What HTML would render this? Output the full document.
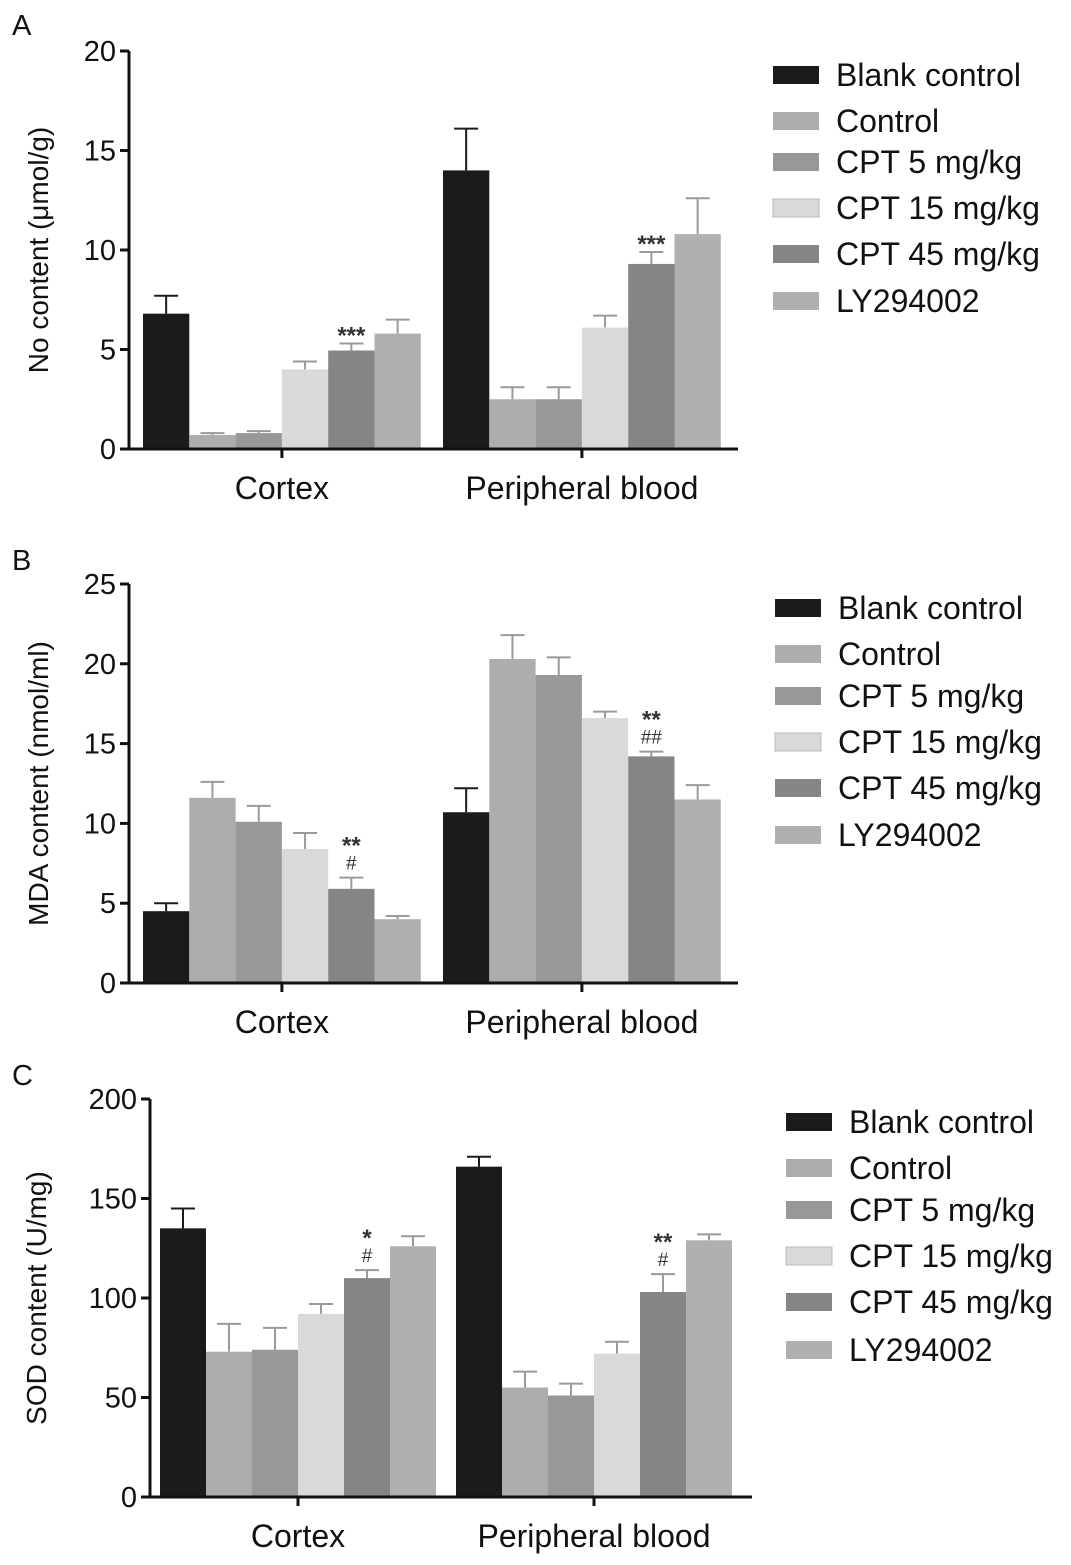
<!DOCTYPE html>
<html><head><meta charset="utf-8"><style>
html,body{margin:0;padding:0;background:#fff}
svg{display:block;font-family:"Liberation Sans",Arial,sans-serif}
</style></head><body>
<svg id="chart" width="1071" height="1565" viewBox="0 0 1071 1565" xmlns="http://www.w3.org/2000/svg"></svg>
<script>
const groups = ["Cortex", "Peripheral blood"];
const seriesNames = ["Blank control", "Control", "CPT 5 mg/kg", "CPT 15 mg/kg", "CPT 45 mg/kg", "LY294002"];
const seriesColors = ["#1b1b1b", "#adadad", "#989898", "#d9d9d9", "#858585", "#b0b0b0"];

const aMeans = [[6.8, 0.7, 0.8, 4.0, 4.95, 5.8], [14.0, 2.5, 2.5, 6.1, 9.3, 10.8]];
const aErr = [[0.9, 0.1, 0.1, 0.4, 0.35, 0.7], [2.1, 0.6, 0.6, 0.6, 0.6, 1.8]];
const aTicks = [0, 5, 10, 15, 20];
const aAnnot = [[null, null, null, null, ["***"], null], [null, null, null, null, ["***"], null]];

const bMeans = [[4.5, 11.6, 10.1, 8.4, 5.9, 4.0], [10.7, 20.3, 19.3, 16.6, 14.2, 11.5]];
const bErr = [[0.5, 1.0, 1.0, 1.0, 0.7, 0.2], [1.5, 1.5, 1.1, 0.4, 0.3, 0.9]];
const bTicks = [0, 5, 10, 15, 20, 25];
const bAnnot = [[null, null, null, null, ["**", "#"], null], [null, null, null, null, ["**", "##"], null]];

const cMeans = [[135, 73, 74, 92, 110, 126], [166, 55, 51, 72, 103, 129]];
const cErr = [[10, 14, 11, 5, 4, 5], [5, 8, 6, 6, 9, 3]];
const cTicks = [0, 50, 100, 150, 200];
const cAnnot = [[null, null, null, null, ["*", "#"], null], [null, null, null, null, ["**", "#"], null]];

const svg = document.getElementById('chart');
const NS = 'http://www.w3.org/2000/svg';
function mk(tag, attrs, text) {
  const e = document.createElementNS(NS, tag);
  for (const k in attrs) e.setAttribute(k, attrs[k]);
  if (text !== undefined) e.textContent = text;
  svg.appendChild(e);
  return e;
}

function panel(cfg) {
  const yMax = cfg.ticks[cfg.ticks.length - 1];
  const yScale = v => cfg.y0 - (v / yMax) * (cfg.y0 - cfg.yTop);
  const bw = cfg.bw;
  const xBar = (g, s) => cfg.gx[g] + s * bw;
  let t;
  t = mk('text', {x: cfg.letterX, y: cfg.letterY, 'font-size': 29, fill: '#111'}, cfg.letter);
  
  
  cfg.means.forEach((row, g) => {
    row.forEach((v, s) => {
      const x = xBar(g, s);
      const top = yScale(v + cfg.err[g][s]);
      const ec = s === 0 ? '#1b1b1b' : '#9a9a9a';
      let l = mk('line', {x1: x + bw / 2, x2: x + bw / 2, y1: yScale(v), y2: top, stroke: ec, 'stroke-width': 2});
      
      
      let c = mk('line', {x1: x + bw / 2 - 12, x2: x + bw / 2 + 12, y1: top, y2: top, stroke: ec, 'stroke-width': 2});
      
      
      let r = mk('rect', {x: x, y: yScale(v), width: bw, height: cfg.y0 - yScale(v), fill: seriesColors[s]});
      
      
      const an = cfg.annot[g][s];
      if (an) {
        an.forEach((txt, i) => {
          const isStar = txt.indexOf('*') >= 0;
          const ay = top - 8 - (an.length - 1 - i) * 24 + (isStar ? 8 : 0);
          let a = mk('text', {x: x + bw / 2, y: ay, 'font-size': isStar ? 24 : 19, 'font-weight': isStar ? 'bold' : 'normal', 'text-anchor': 'middle', fill: '#333'}, txt);
          
          
        });
      }
    });
  });
  let ya = mk('line', {x1: cfg.ax, x2: cfg.ax, y1: cfg.yTop, y2: cfg.y0 + 1, stroke: '#111', 'stroke-width': 3});
  
  
  let xa = mk('line', {x1: cfg.ax - 1, x2: cfg.axEnd, y1: cfg.y0, y2: cfg.y0, stroke: '#111', 'stroke-width': 3});
  
  
  cfg.ticks.forEach(tv => {
    const y = yScale(tv);
    let tk = mk('line', {x1: cfg.ax - 9, x2: cfg.ax, y1: y, y2: y, stroke: '#111', 'stroke-width': 3});
    
    
    let tl = mk('text', {x: cfg.ax - 13, y: y + 10, 'font-size': 29, 'text-anchor': 'end', fill: '#111'}, String(tv));
    
    
  });
  groups.forEach((gname, g) => {
    const cx = cfg.gx[g] + 3 * bw;
    let tk = mk('line', {x1: cx, x2: cx, y1: cfg.y0, y2: cfg.y0 + 9, stroke: '#111', 'stroke-width': 3});
    
    
    let tl = mk('text', {x: cx, y: cfg.y0 + 50, 'font-size': 32, 'text-anchor': 'middle', fill: '#111'}, gname);
    
    
  });
  const midY = (cfg.y0 + cfg.yTop) / 2;
  let yt = mk('text', {x: cfg.ytX, y: midY, 'font-size': 28, 'text-anchor': 'middle', fill: '#111', transform: `rotate(-90 ${cfg.ytX} ${midY})`}, cfg.ytitle);
  
  
  seriesNames.forEach((n, s) => {
    const ly = cfg.legY[s];
    let sw = mk('rect', {x: cfg.legX, y: ly - 9, width: 46, height: 18, fill: seriesColors[s], stroke: s === 3 ? '#bbb' : 'none'});
    
    
    let lt = mk('text', {x: cfg.legX + 63, y: ly + 11, 'font-size': 32, fill: '#111'}, n);
    
    
  });
}

panel({id: 'a', letter: 'A', letterX: 12, letterY: 35, ax: 129, axEnd: 738, y0: 449, yTop: 51, ticks: aTicks,
  means: aMeans, err: aErr, annot: aAnnot, gx: [143, 443], bw: 46.3, ytX: 48, ytitle: 'No content (μmol/g)',
  legX: 773, legY: [75, 121, 162, 208, 254, 301]});
panel({id: 'b', letter: 'B', letterX: 12, letterY: 570, ax: 129, axEnd: 738, y0: 983, yTop: 584, ticks: bTicks,
  means: bMeans, err: bErr, annot: bAnnot, gx: [143, 443], bw: 46.3, ytX: 48, ytitle: 'MDA content (nmol/ml)',
  legX: 775, legY: [608, 654, 696, 742, 788, 835]});
panel({id: 'c', letter: 'C', letterX: 12, letterY: 1085, ax: 150, axEnd: 752, y0: 1497, yTop: 1099, ticks: cTicks,
  means: cMeans, err: cErr, annot: cAnnot, gx: [160, 456], bw: 46, ytX: 46, ytitle: 'SOD content (U/mg)',
  legX: 786, legY: [1122, 1168, 1210, 1256, 1302, 1350]});
</script>
</body></html>
